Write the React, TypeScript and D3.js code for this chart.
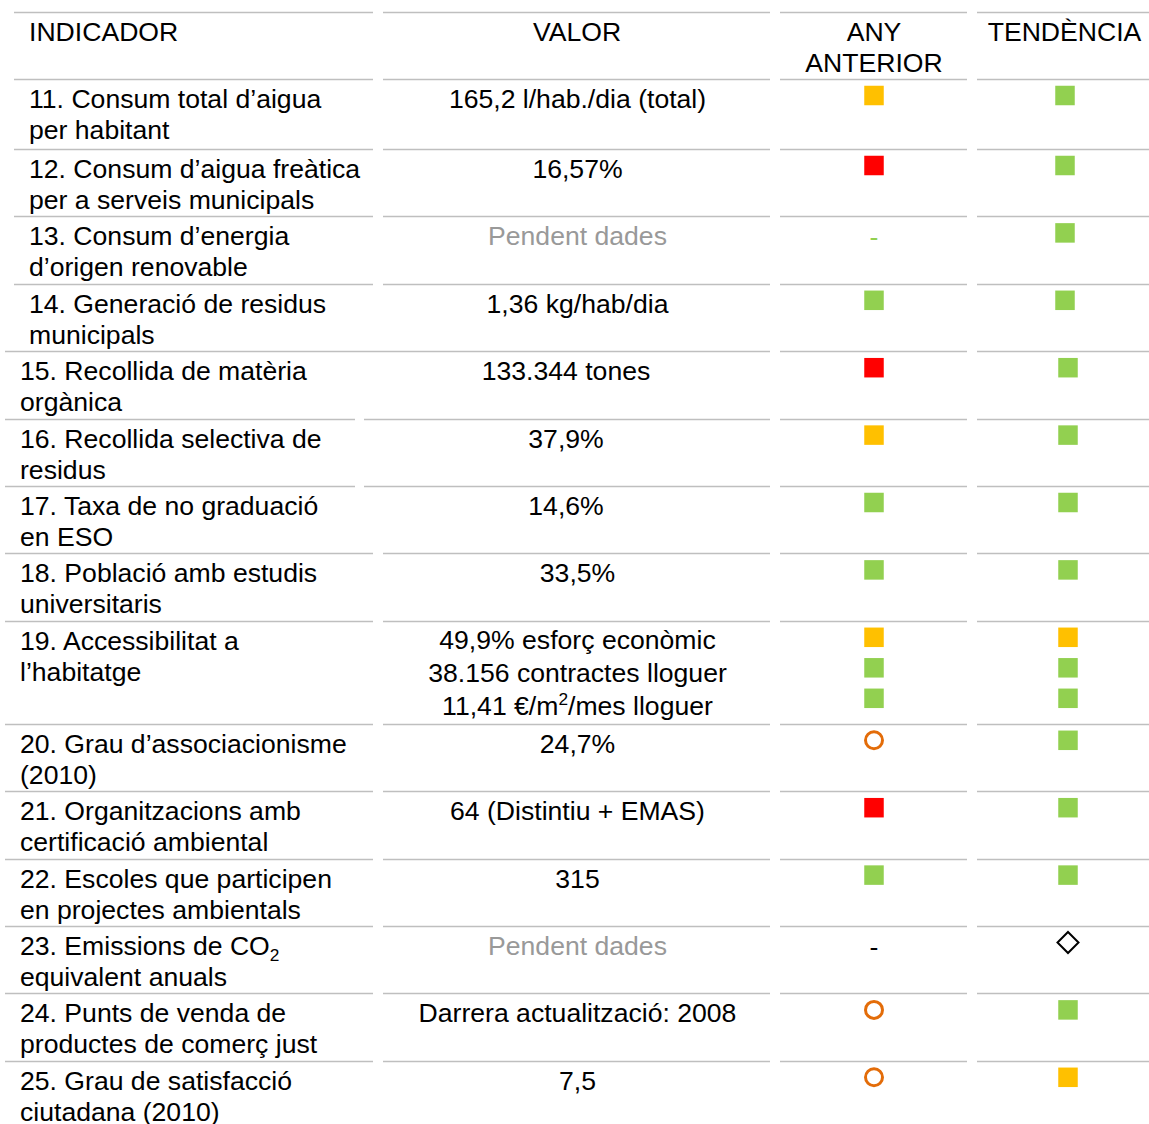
import React from "react";
import * as d3 from "d3";

// ---- Data ----
const headers = ["INDICADOR", "VALOR", "ANY|ANTERIOR", "TENDÈNCIA"];

const indicators: string[][] = [
  ["11. Consum total d’aigua", "per habitant"],
  ["12. Consum d’aigua freàtica", "per a serveis municipals"],
  ["13. Consum d’energia", "d’origen renovable"],
  ["14. Generació de residus", "municipals"],
  ["15. Recollida de matèria", "orgànica"],
  ["16. Recollida selectiva de", "residus"],
  ["17. Taxa de no graduació", "en ESO"],
  ["18. Població amb estudis", "universitaris"],
  ["19. Accessibilitat a", "l’habitatge"],
  ["20. Grau d’associacionisme", "(2010)"],
  ["21. Organitzacions amb", "certificació ambiental"],
  ["22. Escoles que participen", "en projectes ambientals"],
  ["23. Emissions de CO_{2}", "equivalent anuals"],
  ["24. Punts de venda de", "productes de comerç just"],
  ["25. Grau de satisfacció", "ciutadana (2010)"],
];

const values: string[][] = [
  ["165,2 l/hab./dia (total)"],
  ["16,57%"],
  ["Pendent dades"],
  ["1,36 kg/hab/dia"],
  ["133.344 tones"],
  ["37,9%"],
  ["14,6%"],
  ["33,5%"],
  ["49,9% esforç econòmic", "38.156 contractes lloguer", "11,41 €/m^{2}/mes lloguer"],
  ["24,7%"],
  ["64 (Distintiu + EMAS)"],
  ["315"],
  ["Pendent dades"],
  ["Darrera actualització: 2008"],
  ["7,5"],
];

// status codes: y = yellow, g = green, r = red, o = orange ring, d = diamond, dg = green dash, dk = black dash
const previousYear: string[][] = [
  ["y"], ["r"], ["dg"], ["g"], ["r"], ["y"], ["g"], ["g"],
  ["y", "g", "g"], ["o"], ["r"], ["g"], ["dk"], ["o"], ["o"],
];

const trend: string[][] = [
  ["g"], ["g"], ["g"], ["g"], ["g"], ["g"], ["g"], ["g"],
  ["y", "g", "g"], ["g"], ["g"], ["g"], ["d"], ["g"], ["y"],
];

// ---- Style ----
const FONT = "'Liberation Sans', Arial, sans-serif";
const FS = 26.6;
const LINE = "#BFBFBF";
const COLORS: Record<string, string> = {
  y: "#FFC000",
  g: "#92D050",
  r: "#FF0000",
  o: "#E36C09",
};

function RichText({ text, x, y, anchor, fill }: { text: string; x: number; y: number; anchor: string; fill: string }) {
  const parts = text.split(/(_\{[^}]*\}|\^\{[^}]*\})/).filter((p) => p.length > 0);
  return (
    <text x={x} y={y} textAnchor={anchor} fill={fill} fontFamily={FONT} fontSize={FS}>
      {parts.map((p, i) => {
        if (p.startsWith("_{")) {
          return (
            <tspan key={i} fontSize={FS * 0.65} dy={6}>
              {p.slice(2, -1)}
            </tspan>
          );
        }
        if (p.startsWith("^{")) {
          return (
            <tspan key={i} fontSize={FS * 0.65} dy={-10}>
              {p.slice(2, -1)}
            </tspan>
          );
        }
        const prev = parts[i - 1];
        const dy = prev && prev.startsWith("_{") ? -6 : prev && prev.startsWith("^{") ? 10 : 0;
        return (
          <tspan key={i} dy={dy}>
            {p}
          </tspan>
        );
      })}
    </text>
  );
}

function Symbol({ code, cx, cy }: { code: string; cx: number; cy: number }) {
  const s = 19.5;
  if (code === "y" || code === "g" || code === "r") {
    return <rect x={cx - s / 2} y={cy - s / 2} width={s} height={s} fill={COLORS[code]} />;
  }
  if (code === "o") {
    return <circle cx={cx} cy={cy} r={8.5} fill="none" stroke={COLORS.o} strokeWidth={3} />;
  }
  if (code === "d") {
    const h = 10.5;
    const p = d3.path();
    p.moveTo(cx, cy - h);
    p.lineTo(cx + h, cy);
    p.lineTo(cx, cy + h);
    p.lineTo(cx - h, cy);
    p.closePath();
    return <path d={p.toString()} fill="none" stroke="#000" strokeWidth={2} />;
  }
  if (code === "dg" || code === "dk") {
    return (
      <text x={cx} y={cy + 13} textAnchor="middle" fontFamily={FONT} fontSize={FS} fill={code === "dg" ? COLORS.g : "#000"}>
        -
      </text>
    );
  }
  return null;
}

export default function App() {
  const W = 1149;
  const H = 1124;
  const top = 12;
  const headerH = 67;
  const baseRowH = 67.4;
  const extraPerLine = 35.6;
  const firstRowExtra = 2.6;

  // row heights depend on number of value lines
  const heights = values.map((v, i) => baseRowH + (v.length - 1) * (extraPerLine / 2) + (i === 0 ? firstRowExtra : 0));
  const cum = Array.from(d3.cumsum(heights));
  const y0 = top + headerH;
  const rowTops = [y0, ...cum.map((c) => y0 + c)];

  // columns
  const colX = d3.scaleOrdinal<number, [number, number]>().domain([0, 1, 2, 3]).range([
    [14, 373],
    [383, 770],
    [780, 967],
    [977, 1149],
  ]);

  const prevCenter = 874;

  const boundaries = [top, ...rowTops.slice(0, values.length)];

  const lines: JSX.Element[] = [];
  boundaries.forEach((by, bi) => {
    const rowIdx = bi - 1; // row whose top is this boundary
    let segs: [number, number][];
    if (rowIdx <= 3) {
      segs = [colX(0), colX(1)];
    } else if (rowIdx === 4) {
      segs = [[5, 770]];
    } else if (rowIdx === 5 || rowIdx === 6) {
      segs = [[5, 355], [364, 770]];
    } else {
      segs = [[5, 373], [383, 770]];
    }
    segs = [...segs, colX(2), colX(3)];
    const yy = Math.round(by) + 0.5;
    segs.forEach(([a, b], si) => {
      lines.push(<line key={`l${bi}-${si}`} x1={a} x2={b} y1={yy} y2={yy} stroke={LINE} strokeWidth={1.3} />);
    });
  });

  return (
    <svg width={W} height={H} style={{ position: "absolute", left: 0, top: 0, background: "#fff" }}>
      <rect x={0} y={0} width={W} height={H} fill="#fff" />
      {lines}
      {/* header */}
      <text x={29} y={top + 29} fontFamily={FONT} fontSize={FS} fill="#000">{headers[0]}</text>
      <text x={577} y={top + 29} textAnchor="middle" fontFamily={FONT} fontSize={FS} fill="#000">{headers[1]}</text>
      {headers[2].split("|").map((t, k) => (
        <text key={t} x={prevCenter} y={top + 29 + k * 31} textAnchor="middle" fontFamily={FONT} fontSize={FS} fill="#000">{t}</text>
      ))}
      <text x={1064.5} y={top + 29} textAnchor="middle" fontFamily={FONT} fontSize={FS} fill="#000">{headers[3]}</text>

      {values.map((vals, i) => {
        const rt = rowTops[i];
        const indX = i < 4 ? 29 : 20;
        const valCenter = i >= 4 && i <= 6 ? 566 : 577.5;
        const trendCenter = i < 4 ? 1065 : 1068;
        const multi = vals.length > 1;
        return (
          <g key={i}>
            {indicators[i].map((t, k) => (
              <RichText key={k} text={t} x={indX} y={rt + 29 + k * 31} anchor="start" fill="#000" />
            ))}
            {vals.map((v, k) => (
              <RichText
                key={k}
                text={v}
                x={valCenter}
                y={rt + (multi ? 28 : 29) + k * 33}
                anchor="middle"
                fill={v === "Pendent dades" ? "#999999" : "#000"}
              />
            ))}
            {previousYear[i].map((c, k) => (
              <Symbol key={k} code={c} cx={prevCenter} cy={rt + 16.5 + k * 30.5} />
            ))}
            {trend[i].map((c, k) => (
              <Symbol key={k} code={c} cx={trendCenter} cy={rt + 16.5 + k * 30.5} />
            ))}
          </g>
        );
      })}
    </svg>
  );
}
